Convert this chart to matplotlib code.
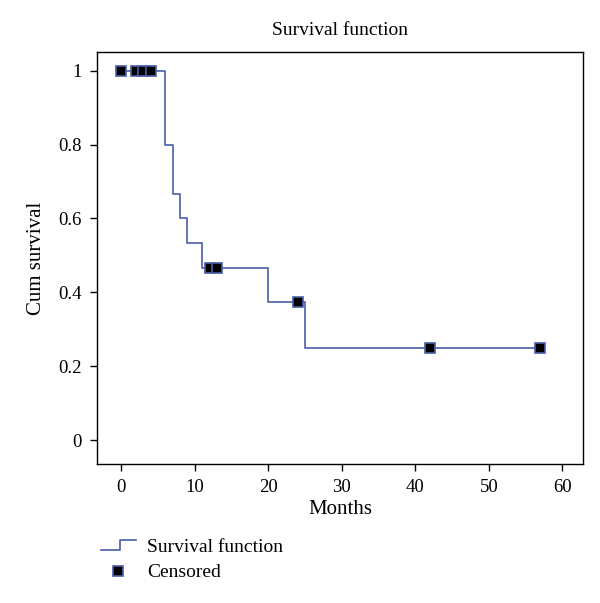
import matplotlib
matplotlib.use("Agg")
import matplotlib.pyplot as plt
from matplotlib.lines import Line2D
from matplotlib.legend_handler import HandlerBase
import numpy as np

plt.rcParams['font.family'] = ['Liberation Serif', 'DejaVu Serif']

# Kaplan-Meier step data
step_times = [0, 6, 7, 8, 9, 11, 20, 25, 57]
step_surv = [1.0, 0.8, 0.6667, 0.6, 0.5333, 0.4667, 0.3733, 0.2489, 0.2489]
censor_times = [0, 2, 3, 4, 12, 13, 24, 42, 57]
censor_surv = [1.0, 1.0, 1.0, 1.0, 0.4667, 0.4667, 0.3733, 0.2489, 0.2489]
x_ticks = [0, 10, 20, 30, 40, 50, 60]
y_ticks = [0, 0.2, 0.4, 0.6, 0.8, 1]
y_labels = ["0", "0.2", "0.4", "0.6", "0.8", "1"]

line_color = "#4a5ea8"

fig = plt.figure(figsize=(6.0, 6.03), dpi=100)
ax = fig.add_axes([0.1617, 0.2305, 0.81, 0.6833])

ax.step(step_times, step_surv, where="post", color=line_color, lw=1.2, zorder=2)
ax.plot(censor_times, censor_surv, ls="none", marker="s", markersize=7,
        markerfacecolor="black", markeredgecolor=line_color, markeredgewidth=1.2, zorder=3)

ax.set_xlim(-3.3, 62.8)
ax.set_ylim(-0.065, 1.051)
ax.set_xticks(x_ticks)
ax.set_yticks(y_ticks)
ax.set_yticklabels(y_labels)
ax.tick_params(direction="out", length=5, width=1, labelsize=13.5, pad=6)
for s in ax.spines.values():
    s.set_linewidth(1.0)

ax.set_title("Survival function", fontsize=14, pad=12)
ax.set_xlabel("Months", fontsize=15, labelpad=3)
ax.set_ylabel("Cum survival", fontsize=15, labelpad=9)


class StepHandler(HandlerBase):
    def create_artists(self, legend, orig_handle, xdescent, ydescent, width, height, fontsize, trans):
        x0 = -xdescent
        y0 = -ydescent
        xs = [x0, x0 + width * 0.55, x0 + width * 0.55, x0 + width]
        ys = [y0 + height * 0.15, y0 + height * 0.15, y0 + height * 0.85, y0 + height * 0.85]
        ln = Line2D(xs, ys, color=line_color, lw=1.2, transform=trans)
        return [ln]


h_line = Line2D([], [], color=line_color)
h_cens = Line2D([], [], ls="none", marker="s", markersize=7,
                markerfacecolor="black", markeredgecolor=line_color, markeredgewidth=1.2)
leg = fig.legend([h_line, h_cens], ["Survival function", "Censored"],
                 handler_map={h_line: StepHandler()},
                 loc="upper left", bbox_to_anchor=(0.155, 0.12), frameon=False,
                 fontsize=14, handlelength=1.8, handletextpad=0.6, labelspacing=0.4,
                 borderaxespad=0)

fig.savefig("out.png", dpi=100)
